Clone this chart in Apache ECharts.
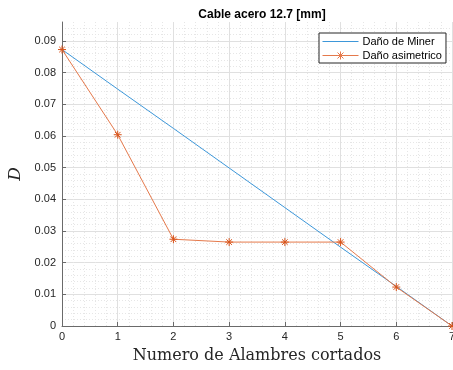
<!DOCTYPE html>
<html>
<head>
<meta charset="utf-8">
<script src="https://cdn.jsdelivr.net/npm/echarts@6/dist/echarts.min.js"></script>
<style>
  html, body { margin: 0; padding: 0; background: #fff; }
  #chart { width: 453px; height: 370px; }
</style>
</head>
<body>
<div id="chart"></div>
<script>
const cortes = [0, 1, 2, 3, 4, 5, 6, 7];
const danoMiner = [0.0873, 0.0748, 0.0624, 0.0499, 0.0374, 0.0249, 0.0125, 0];
const danoAsimetrico = [0.0873, 0.0604, 0.0274, 0.0265, 0.0265, 0.0265, 0.0123, 0];
const seriesNames = ['Daño de Miner', 'Daño asimetrico'];

// thin antialiased MATLAB lines look lighter than the nominal colours
const blue = '#3d97d9';
const orange = '#e5794b';
const orangeMark = '#D95319';
const asterisk = 'path://M5 0L5 10M0 5L10 5M1.5 1.5L8.5 8.5M1.5 8.5L8.5 1.5';
// legend icons (stroked): plain line / line with the asterisk in the middle
// the zero-length segments only keep the icon box 36x8 so both scale the same
const iconLine = 'path://M0 5L36 5M0 1L0 1M0 9L0 9';
const iconStar = 'path://M0 5L36 5M18 1L18 9M14 5L22 5M15 2L21 8M15 8L21 2';

function pairs(xs, ys) {
    return xs.map((x, i) => [x, ys[i]]);
}

const chart = echarts.init(document.getElementById('chart'));

const option = {
    animation: false,
    backgroundColor: '#fff',
    title: {
        text: 'Cable acero 12.7 [mm]',
        left: 257,
        top: 4,
        textAlign: 'center',
        textStyle: { fontFamily: 'Liberation Sans', fontSize: 12, fontWeight: 'bold', color: '#000' }
    },
    legend: {
        orient: 'vertical',
        left: 319,
        top: 33,
        data: [
            { name: seriesNames[0], icon: iconLine, itemStyle: { color: 'transparent', borderColor: blue, borderWidth: 1 } },
            { name: seriesNames[1], icon: iconStar, itemStyle: { color: 'transparent', borderColor: orange, borderWidth: 1 } }
        ],
        backgroundColor: '#fff',
        borderColor: '#262626',
        borderWidth: 1,
        borderRadius: 0,
        padding: [3, 4, 2, 3],
        itemWidth: 36,
        itemHeight: 9,
        itemGap: 3,
        textStyle: { fontFamily: 'Liberation Sans', fontSize: 11, color: '#000', padding: [0, 0, 0, -1] }
    },
    grid: { left: 62, right: 1, top: 22, bottom: 44, containLabel: false, outerBoundsMode: 'none' },
    xAxis: {
        type: 'value',
        min: 0,
        max: 7,
        interval: 1,
        name: 'Numero de Alambres cortados',
        nameLocation: 'middle',
        nameGap: 22,
        nameTextStyle: { fontFamily: 'DejaVu Serif', fontSize: 16, color: '#262626' },
        axisLine: { lineStyle: { color: '#6a6a6a', width: 1 } },
        axisTick: { inside: true, length: 4, lineStyle: { color: '#6a6a6a' } },
        axisLabel: { fontFamily: 'Liberation Sans', fontSize: 11, color: '#262626', margin: 5, hideOverlap: false },
        splitLine: { show: true, lineStyle: { color: '#e0e0e0', width: 1 } },
        minorTick: { show: false, splitNumber: 5 },
        minorSplitLine: { show: true, lineStyle: { color: '#e6e6e6', type: [1, 2], width: 1 } }
    },
    yAxis: {
        type: 'value',
        min: 0,
        max: 0.096,
        interval: 0.01,
        name: 'D',
        nameLocation: 'middle',
        nameGap: 36,
        nameRotate: 90,
        nameTextStyle: { fontFamily: 'DejaVu Serif', fontStyle: 'italic', fontSize: 17, color: '#262626' },
        axisLine: { show: true, lineStyle: { color: '#6a6a6a', width: 1 } },
        axisTick: { show: true, inside: true, length: 4, lineStyle: { color: '#6a6a6a' } },
        axisLabel: {
            fontFamily: 'Liberation Sans', fontSize: 11, color: '#262626', margin: 6,
            showMaxLabel: false,
            formatter: v => (Math.abs(v * 100 - Math.round(v * 100)) < 1e-6 ? String(Math.round(v * 100) / 100) : '')
        },
        splitLine: { show: true, showMaxLine: false, lineStyle: { color: '#e0e0e0', width: 1 } },
        minorTick: { show: false, splitNumber: 5 },
        minorSplitLine: { show: true, lineStyle: { color: '#e6e6e6', type: [1, 2], width: 1 } }
    },
    series: [
        {
            name: seriesNames[0],
            type: 'line',
            data: pairs(cortes, danoMiner),
            showSymbol: false,
            symbol: 'none',
            lineStyle: { color: blue, width: 1 },
            itemStyle: { color: blue },
            emphasis: { disabled: true }
        },
        {
            name: seriesNames[1],
            type: 'line',
            data: pairs(cortes, danoAsimetrico),
            symbol: asterisk,
            symbolSize: 8,
            symbolKeepAspect: true,
            clip: false,
            lineStyle: { color: orange, width: 1 },
            itemStyle: { color: 'transparent', borderColor: orangeMark, borderWidth: 1 },
            emphasis: { disabled: true }
        }
    ]
};

chart.setOption(option);
</script>
</body>
</html>
